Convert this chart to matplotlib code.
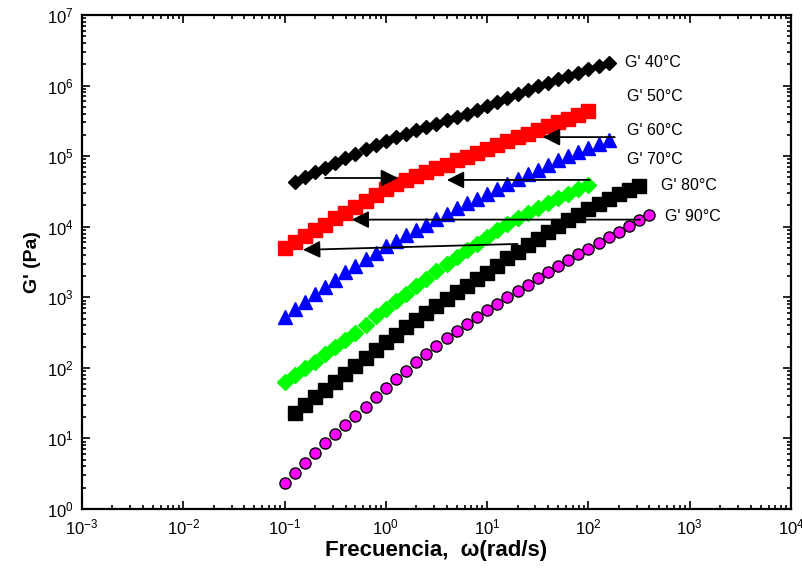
import matplotlib
matplotlib.use('Agg')
import matplotlib.pyplot as plt
from matplotlib.ticker import LogLocator, FixedLocator

plt.rcParams['font.family'] = ['Liberation Sans', 'DejaVu Sans']
plt.rcParams['mathtext.fontset'] = 'custom'
plt.rcParams['mathtext.rm'] = 'Liberation Sans'

# frequencies, rad/s (10 points per decade)
freq = [0.1, 0.126, 0.158, 0.2, 0.251, 0.316, 0.398, 0.501, 0.631, 0.794,
        1, 1.26, 1.58, 2, 2.51, 3.16, 3.98, 5.01, 6.31, 7.94,
        10, 12.6, 15.8, 20, 25.1, 31.6, 39.8, 50.1, 63.1, 79.4,
        100, 126, 158, 200, 251, 316, 398]

# G' (Pa)
g40 = [4.3e4, 5.0e4, 5.9e4, 6.9e4, 8.1e4, 9.3e4, 1.07e5, 1.26e5, 1.45e5,
       1.66e5, 1.86e5, 2.09e5, 2.34e5, 2.57e5, 2.88e5, 3.24e5, 3.55e5, 3.98e5,
       4.47e5, 5.13e5, 5.89e5, 6.76e5, 7.59e5, 8.71e5, 9.77e5, 1.10e6, 1.23e6,
       1.38e6, 1.51e6, 1.70e6, 1.91e6, 2.09e6]          # freq[1:33]
g50 = [5.0e3, 6.0e3, 7.4e3, 8.9e3, 1.07e4, 1.32e4, 1.58e4, 1.91e4, 2.29e4,
       2.82e4, 3.39e4, 4.07e4, 4.57e4, 5.25e4, 5.89e4, 6.76e4, 7.59e4, 8.71e4,
       9.77e4, 1.12e5, 1.26e5, 1.45e5, 1.62e5, 1.86e5, 2.09e5, 2.34e5, 2.69e5,
       3.02e5, 3.39e5, 3.89e5, 4.37e5]                  # freq[0:31]
g60 = [525, 676, 871, 1120, 1410, 1780, 2290, 2820, 3470, 4270, 5250, 6310,
       7590, 9120, 1.07e4, 1.29e4, 1.51e4, 1.82e4, 2.14e4, 2.51e4, 2.95e4,
       3.47e4, 4.07e4, 4.79e4, 5.50e4, 6.46e4, 7.41e4, 8.71e4, 1.0e5, 1.15e5,
       1.32e5, 1.48e5, 1.70e5]                          # freq[0:33]
g70 = [62, 78, 98, 123, 155, 195, 245, 316, 407, 537, 692, 891, 1120, 1450,
       1820, 2340, 2950, 3720, 4680, 5750, 7240, 8910, 1.10e4, 1.32e4, 1.55e4,
       1.86e4, 2.19e4, 2.57e4, 2.95e4, 3.39e4, 3.89e4]  # freq[0:31]
g80 = [23, 30, 38, 49, 63, 81, 107, 138, 178, 229, 295, 380, 479, 603, 759,
       933, 1170, 1450, 1820, 2240, 2820, 3550, 4370, 5500, 6760, 8320, 1.02e4,
       1.23e4, 1.48e4, 1.78e4, 2.09e4, 2.45e4, 2.88e4, 3.31e4, 3.80e4]  # freq[1:36]
g90 = [2.3, 3.2, 4.5, 6.2, 8.5, 11.5, 15.5, 20.9, 28.2, 38, 51, 69, 91, 120,
       158, 204, 263, 331, 417, 525, 661, 813, 1000, 1230, 1510, 1860, 2290,
       2820, 3390, 4070, 4900, 5890, 7080, 8510, 1.02e4, 1.23e4, 1.45e4]  # freq[0:37]

labels = ["G' 40°C", "G' 50°C", "G' 60°C", "G' 70°C", "G' 80°C", "G' 90°C"]
label_x = [229, 240, 240, 240, 520, 569]
label_y = [2.09e6, 6.9e5, 2.34e5, 8.9e4, 3.8e4, 1.41e4]

# arrows: (tail x, tail y, head x, head y)
arrows = [(0.251, 4.9e4, 1.32, 4.9e4),
          (103, 4.6e4, 4.0, 4.6e4),
          (182, 1.86e5, 35.5, 1.86e5),
          (324, 1.26e4, 0.46, 1.26e4),
          (20, 5.7e3, 0.152, 4.7e3)]

fig = plt.figure(figsize=(8.02, 5.68), dpi=100)
ax = fig.add_axes([0.1022, 0.1039, 0.8841, 0.8697])

ax.plot(freq[1:33], g40, ls='none', marker='D', ms=7.5, color='black')
ax.plot(freq[0:31], g50, ls='none', marker='s', ms=10, color='#ff0000')
ax.plot(freq[0:33], g60, ls='none', marker='^', ms=9.5, color='#0000ff')
ax.plot(freq[0:31], g70, ls='none', marker='D', ms=8, color='#00ff00')
ax.plot(freq[1:36], g80, ls='none', marker='s', ms=10, color='black')
ax.plot(freq[0:37], g90, ls='none', marker='o', ms=8, color='#ff00ff',
        mec='black', mew=1)

for x0, y0, x1, y1 in arrows:
    ax.annotate('', xy=(x1, y1), xytext=(x0, y0),
                arrowprops=dict(arrowstyle='-|>', color='black', lw=1.3,
                                mutation_scale=26, shrinkA=0, shrinkB=0))

for t, x, y in zip(labels, label_x, label_y):
    ax.text(x, y, t, fontsize=11.5, va='center', ha='left')

ax.set_xscale('log')
ax.set_yscale('log')
ax.set_xlim(1e-3, 1e4)
ax.set_ylim(1e0, 1e7)

ax.xaxis.set_major_locator(FixedLocator([10.0**k for k in range(-3, 5)]))
ax.yaxis.set_major_locator(FixedLocator([10.0**k for k in range(0, 8)]))
ax.xaxis.set_minor_locator(LogLocator(base=10, subs=range(2, 10), numticks=20))
ax.yaxis.set_minor_locator(LogLocator(base=10, subs=range(2, 10), numticks=20))
ax.tick_params(which='both', direction='in', top=True, right=True,
               labelsize=12, width=1.2)
ax.tick_params(which='major', length=6, pad=6)
ax.tick_params(which='minor', length=3)
for s in ax.spines.values():
    s.set_linewidth(1.6)

ax.set_xlabel('Frecuencia,  ω(rad/s)', fontsize=16, fontweight='bold', labelpad=2)
ax.set_ylabel("G' (Pa)", fontsize=14, fontweight='bold', labelpad=4)

fig.savefig('out.png', dpi=100)
